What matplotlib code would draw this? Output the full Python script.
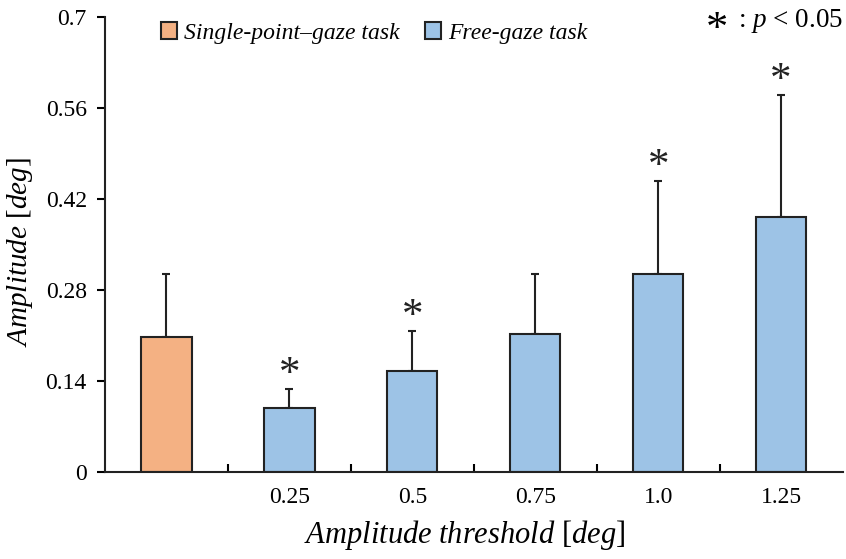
import matplotlib.pyplot as plt
import numpy as np

plt.rcParams['font.family'] = ['Liberation Serif', 'DejaVu Serif']
plt.rcParams['mathtext.fontset'] = 'custom'
plt.rcParams['mathtext.rm'] = 'Liberation Serif'
plt.rcParams['mathtext.it'] = 'Liberation Serif:italic'

labels = ["", "0.25", "0.5", "0.75", "1.0", "1.25"]
means = [0.207, 0.099, 0.155, 0.213, 0.304, 0.392]
errs = [0.098, 0.029, 0.062, 0.092, 0.143, 0.188]
signif = [False, True, True, False, True, True]
colors = ["#F4B183", "#9DC3E6", "#9DC3E6", "#9DC3E6", "#9DC3E6", "#9DC3E6"]

fig = plt.figure(figsize=(8.46, 5.59), dpi=100)
ax = fig.add_axes([0.124, 0.1556, 0.872, 0.814])

x = np.arange(len(means))
ax.bar(x, means, width=0.41, color=colors, edgecolor="#222222", linewidth=1.5, zorder=2)
ax.errorbar(x, means, yerr=[np.zeros(len(errs)), errs], fmt="none",
            ecolor="#222222", elinewidth=1.5, capsize=3, capthick=1.5, zorder=1)

for i in range(len(means)):
    if signif[i]:
        ax.text(x[i], means[i] + errs[i] + 0.022, "*", ha="center", va="center",
                fontsize=31, color="#222222")

ax.set_xlim(-0.5, 5.5)
ax.set_ylim(0, 0.7)
ax.set_yticks([0, 0.14, 0.28, 0.42, 0.56, 0.7])
ax.set_yticklabels(["0", "0.14", "0.28", "0.42", "0.56", "0.7"])
ax.set_xticks(x[:-1] + 0.5)
ax.set_xticklabels([])
ax.set_xticks(x, minor=True)
ax.set_xticklabels(labels, minor=True)
ax.tick_params(axis="x", which="major", direction="in", length=6, width=1.5)
ax.tick_params(axis="x", which="minor", length=0, pad=11, labelsize=17)
ax.tick_params(axis="y", direction="out", length=6, width=1.5, labelsize=17, pad=7)
for s in ["top", "right"]:
    ax.spines[s].set_visible(False)
for s in ["left", "bottom"]:
    ax.spines[s].set_linewidth(1.5)
    ax.spines[s].set_color("#222222")

ax.set_ylabel(r"$Amplitude$ [$deg$]", fontsize=21)
ax.yaxis.set_label_coords(-0.095, 0.483)
ax.set_xlabel(r"$Amplitude\ threshold$ [$deg$]", fontsize=22)
ax.xaxis.set_label_coords(0.488, -0.1)

h1 = plt.Rectangle((0, 0), 1, 1, facecolor=colors[0], edgecolor="#222222", linewidth=1.5)
h2 = plt.Rectangle((0, 0), 1, 1, facecolor=colors[1], edgecolor="#222222", linewidth=1.5)
ax.legend([h1, h2], ["Single-point–gaze task", "Free-gaze task"], ncol=2,
          loc="upper left", bbox_to_anchor=(0.047, 1.035), frameon=False,
          prop={"style": "italic", "size": 17}, handlelength=0.7, handleheight=0.7,
          handletextpad=0.3, columnspacing=1.05)

fig.text(0.997, 0.962, r": $p$ < 0.05", ha="right", va="center", fontsize=19.5)
fig.text(0.848, 0.947, "*", ha="center", va="center", fontsize=32)

fig.savefig("out.png", dpi=100)
